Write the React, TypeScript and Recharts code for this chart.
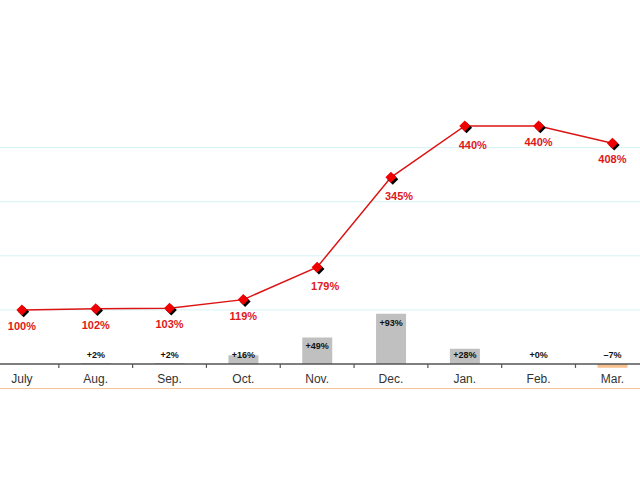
import React from "react";
import {
  ComposedChart,
  Bar,
  Line,
  XAxis,
  YAxis,
  CartesianGrid,
  ReferenceLine,
  LabelList,
  Cell,
} from "recharts";

const months = ["July", "Aug.", "Sep.", "Oct.", "Nov.", "Dec.", "Jan.", "Feb.", "Mar."];
const cumulative = [100, 102, 103, 119, 179, 345, 440, 440, 408];
const monthlyChange: (number | null)[] = [null, 2, 2, 16, 49, 93, 28, 0, -7];
const gridValues = [100, 200, 300, 400];

const data = months.map((m, i) => ({
  month: m,
  cumulative: cumulative[i],
  change: monthlyChange[i],
}));

const CHART_W = 680;
const CHART_H = 480;
const MARGIN = { top: 39.41, right: 15.7, bottom: 80.59, left: 0 };
const BAND = (CHART_W - MARGIN.left - MARGIN.right) / months.length;
const FONT = "'Liberation Sans', Arial, sans-serif";

const Diamond = (props: any) => {
  const { cx, cy } = props;
  if (cx == null || cy == null) return null;
  const r = 5.5;
  const pts = (dx: number, dy: number) =>
    `${cx + dx},${cy + dy - r} ${cx + dx + r},${cy + dy} ${cx + dx},${cy + dy + r} ${cx + dx - r},${cy + dy}`;
  return (
    <g>
      <polygon points={pts(1.8, 1.8)} fill="#000" />
      <polygon points={pts(0, 0)} fill="#f00000" />
    </g>
  );
};

const LineLabel = (props: any) => {
  const { x, y, value, index } = props;
  const prev = index > 0 ? cumulative[index - 1] : value;
  const steep = value - prev > 50;
  const dx = steep ? 8 : 0;
  const dy = steep ? 19 : 16;
  return (
    <text
      x={x + dx}
      y={y + dy}
      textAnchor="middle"
      dominantBaseline="central"
      fill="#e01818"
      fontFamily={FONT}
      fontSize={11}
      fontWeight="bold"
    >
      {value}%
    </text>
  );
};

const BarLabel = (props: any) => {
  const { x, y, width, height, value } = props;
  if (value == null) return null;
  const top = Math.min(y, y + height);
  const bottom = Math.max(y, y + height);
  const zero = value >= 0 ? bottom : top;
  const cy = value > 0 ? Math.min(top + 9, zero - 9) : zero - 9;
  const txt = value > 0 ? `+${value}%` : value === 0 ? "+0%" : `\u2013${Math.abs(value)}%`;
  return (
    <text
      x={x + width / 2}
      y={cy}
      textAnchor="middle"
      dominantBaseline="central"
      fill="#111"
      fontFamily={FONT}
      fontSize={9}
      fontWeight="bold"
    >
      {txt}
    </text>
  );
};

const MonthTick = (props: any) => {
  const { x, y, payload } = props;
  const bx = x - BAND / 2;
  return (
    <g>
      <line x1={bx} x2={bx} y1={y - 5.4} y2={y - 1.5} stroke="#555" strokeWidth={1.2} />
      <text
        x={x}
        y={y + 10}
        textAnchor="middle"
        dominantBaseline="central"
        fill="#333"
        fontFamily={FONT}
        fontSize={12}
      >
        {payload.value}
      </text>
    </g>
  );
};

export default function App() {
  return (
    <div
      style={{
        position: "fixed",
        left: 0,
        top: 0,
        width: 640,
        height: 480,
        overflow: "hidden",
        background: "#fff",
      }}
    >
      <div style={{ position: "absolute", left: -15.4, top: 0 }}>
        <ComposedChart width={CHART_W} height={CHART_H} data={data} margin={MARGIN}>
          <CartesianGrid
            vertical={false}
            horizontalValues={gridValues}
            stroke="#d6f3f7"
            strokeWidth={1}
          />
          <XAxis
            dataKey="month"
            axisLine={false}
            tickLine={false}
            tickSize={0}
            tickMargin={0}
            height={30}
            interval={0}
            tick={<MonthTick />}
          />
          <YAxis hide domain={[-10, 600]} ticks={[0, ...gridValues]} allowDataOverflow />
          <Bar
            dataKey="change"
            barSize={30}
            fill="#c0c0c0"
            minPointSize={(v: any) => (v === 0 ? 0.01 : 0)}
            isAnimationActive={false}
          >
            {data.map((d, i) => (
              <Cell key={i} fill={d.change != null && d.change < 0 ? "#f7c08c" : "#c0c0c0"} />
            ))}
            <LabelList dataKey="change" content={<BarLabel />} />
          </Bar>
          <ReferenceLine y={0} stroke="#555" strokeWidth={1.5} />
          <Line
            dataKey="cumulative"
            stroke="#dd1414"
            strokeWidth={1.5}
            dot={<Diamond />}
            activeDot={false}
            isAnimationActive={false}
          >
            <LabelList dataKey="cumulative" content={<LineLabel />} />
          </Line>
        </ComposedChart>
      </div>
      <div
        style={{
          position: "absolute",
          left: 0,
          top: 387.5,
          width: 640,
          height: 1.5,
          background: "#f6c495",
        }}
      />
    </div>
  );
}
